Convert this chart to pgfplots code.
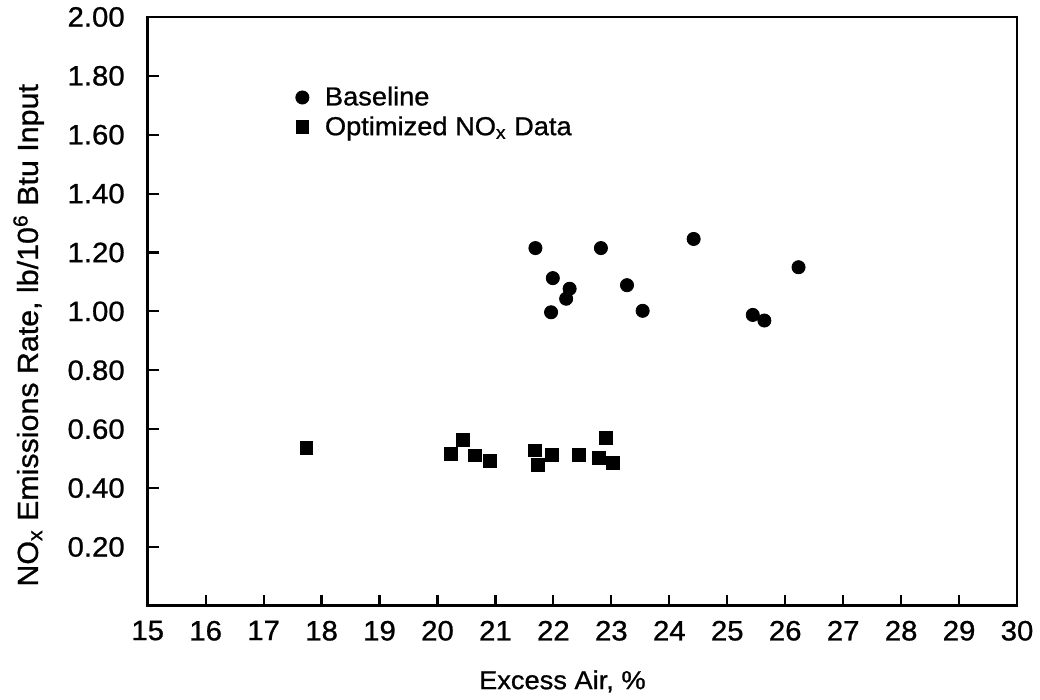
\documentclass[border=0pt]{standalone}
\usepackage{fontspec}
\setmainfont{Liberation Sans}[FakeStretch=1.05, FakeBold=0.9]
\usepackage{pgfplots}
\pgfplotsset{compat=1.18}
\usetikzlibrary{calc}

\begin{document}
\begin{tikzpicture}
\begin{axis}[
  scale only axis,
  width=435.5pt, height=295pt,
  xmin=15, xmax=30, ymin=0, ymax=2.0,
  axis line style={line width=1.4pt},
  xtick={15,16,...,30},
  ytick={0.2,0.4,...,2.01},
  yticklabel style={/pgf/number format/fixed, /pgf/number format/fixed zerofill,
    /pgf/number format/precision=2, xshift=-8pt},
  /pgf/number format/assume math mode=true,
  tick style={line width=1.1pt, black},
  major tick length=5.5pt,
  tick align=inside,
  xtick pos=bottom, ytick pos=left,
  ticklabel style={font=\fontsize{14}{16}\selectfont},
  xticklabel style={yshift=-4pt},
  xlabel={Excess Air, \%},
  ylabel={NO\textsubscript{x} Emissions Rate, lb/10\textsuperscript{6} Btu Input},
  xlabel style={font=\fontsize{13}{15}\selectfont, yshift=-8pt, xshift=-10pt},
  ylabel style={font=\fontsize{14.5}{16}\selectfont, yshift=5pt, xshift=-12pt},
  legend style={at={(0.163,0.896)}, anchor=north west, draw=none, fill=none,
    font=\fontsize{13}{15}\selectfont, row sep=0pt,
    /tikz/every odd column/.append style={column sep=6pt}},
  legend cell align=left,
]
\addplot[only marks, mark=*, mark size=3.3pt, black] coordinates {
  (21.69,1.215) (22.82,1.215) (24.42,1.246) (26.23,1.150)
  (21.99,1.113) (22.28,1.077) (22.22,1.043) (21.96,0.997)
  (23.27,1.089) (23.54,1.002) (25.44,0.988) (25.64,0.969)
};
\addlegendentry{Baseline}
\addplot[only marks, mark=square*, mark size=3.2pt, black] coordinates {
  (17.74,0.537) (20.23,0.517) (20.44,0.563) (20.64,0.511)
  (20.91,0.493) (21.68,0.528) (21.73,0.478) (21.98,0.512)
  (22.44,0.513) (22.91,0.570) (22.78,0.503) (23.03,0.486)
};
\addlegendentry{Optimized NO\textsubscript{x} Data}
\end{axis}
\useasboundingbox ($(current axis.south west)+(-74pt,-47pt)$) rectangle ($(current axis.north east)+(10.5pt,8.5pt)$);
\end{tikzpicture}
\end{document}
